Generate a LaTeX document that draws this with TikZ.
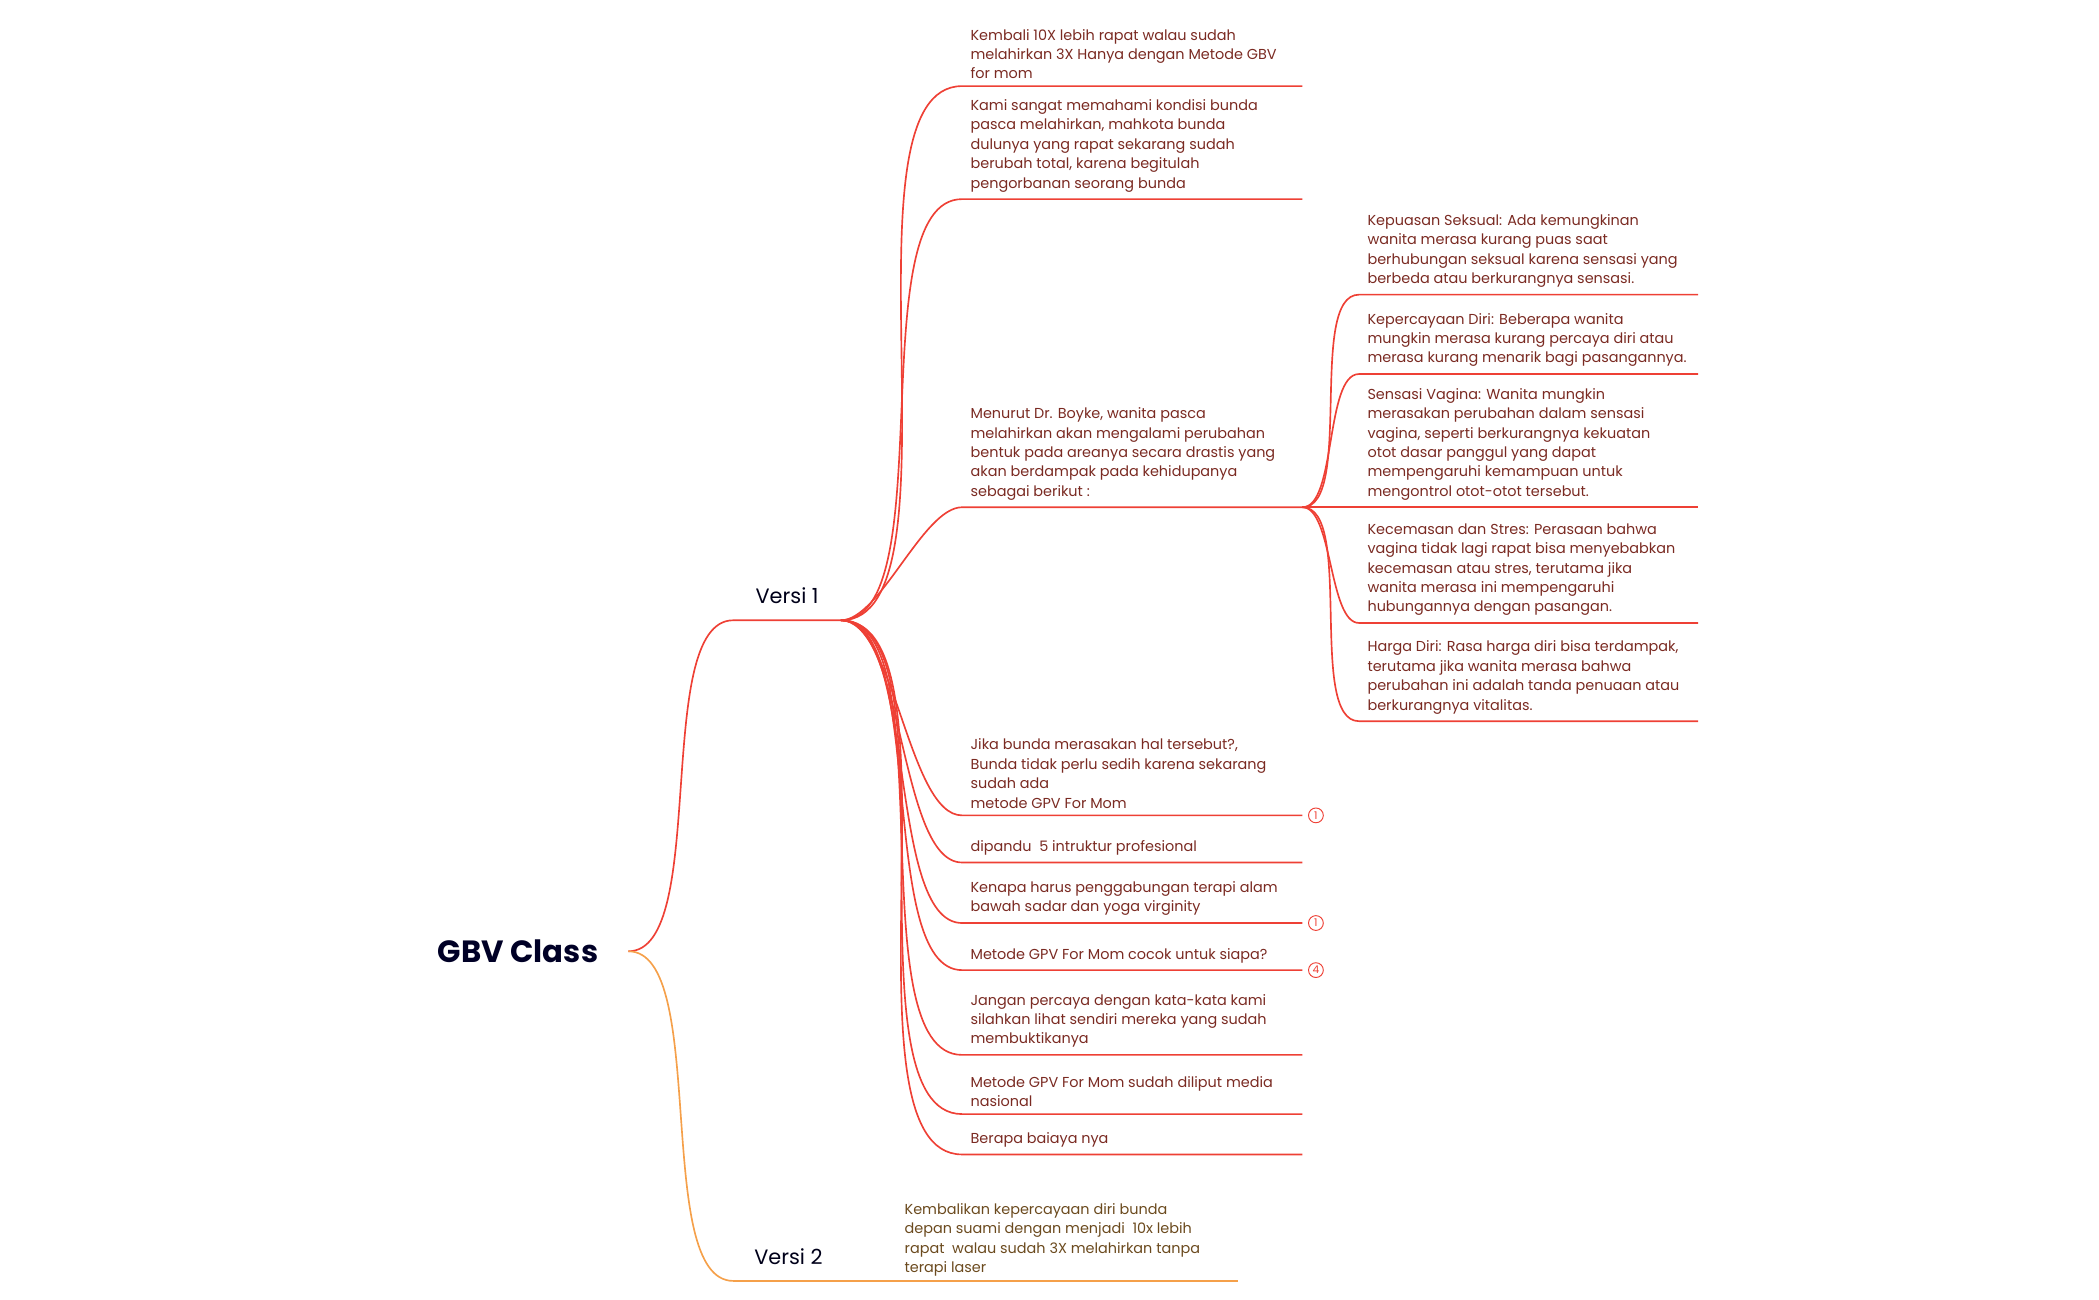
\documentclass[tikz,border=0pt]{standalone}
\usepackage{fontspec}
\setmainfont{Poppins}
\usetikzlibrary{positioning}
\definecolor{branchred}{HTML}{EE4035}
\definecolor{textred}{HTML}{7A2A22}
\definecolor{branchorange}{HTML}{F5A04A}
\definecolor{textbrown}{HTML}{6B4A1E}
\tikzset{
  leaf/.style={anchor=south west,align=left,inner sep=0pt,text=textred,
    font=\fontsize{6.1}{8.2}\selectfont},
  topic/.style={inner sep=0pt,text=black!90!blue,font=\fontsize{8.8}{11}\selectfont},
  link/.style={branchred,line width=0.7pt},
  curve/.style={out=0,in=180,looseness=0.6},
  badge/.style={circle,draw=branchred,text=branchred,inner sep=0pt,minimum size=0.22cm,
    fill=white,font=\fontsize{4.5}{5}\selectfont}
}
\begin{document}
\begin{tikzpicture}[x=0.02cm,y=-0.02cm]
  \useasboundingbox (0,0) rectangle (1560,966);
  % root and main topics
  \node[inner sep=0pt,font=\fontsize{13}{16}\selectfont\bfseries,text=black!85!blue] (root) at (385,707) {GBV Class};
  \coordinate (r) at (467,707);
  \node[topic] (v1) at (585,443) {Versi 1};
  \node[topic] (v2) at (586,934) {Versi 2};
  \coordinate (v1a) at (545,461);
  \coordinate (v1b) at (625,461);
  \coordinate (v2a) at (545,952);
  \draw[link] (r) to[curve] (v1a) -- (v1b);
  \draw[branchorange,line width=0.7pt] (r) to[curve] (v2a) -- (920,952);
  \node[leaf,text=textbrown] (k2) at (672,949) {Kembalikan kepercayaan diri bunda\\depan suami dengan menjadi\ \ 10x lebih\\rapat\ \ walau sudah 3X melahirkan tanpa\\terapi laser};
  % Versi 1 children
  \foreach \y/\name/\txt in {
    64/c1/{Kembali 10X lebih rapat walau sudah\\melahirkan 3X Hanya dengan Metode GBV\\for mom},
    148/c2/{Kami sangat memahami kondisi bunda\\pasca melahirkan, mahkota bunda\\dulunya yang rapat sekarang sudah\\berubah total, karena begitulah\\pengorbanan seorang bunda},
    377/c3/{Menurut Dr. Boyke, wanita pasca\\melahirkan akan mengalami perubahan\\bentuk pada areanya secara drastis yang\\akan berdampak pada kehidupanya\\sebagai berikut :},
    606/c4/{Jika bunda merasakan hal tersebut?,\\Bunda tidak perlu sedih karena sekarang\\sudah ada\\metode GPV For Mom},
    641/c5/{dipandu\ \ 5 intruktur profesional},
    686/c6/{Kenapa harus penggabungan terapi alam\\bawah sadar dan yoga virginity},
    721/c7/{Metode GPV For Mom cocok untuk siapa?},
    784/c8/{Jangan percaya dengan kata-kata kami\\silahkan lihat sendiri mereka yang sudah\\membuktikanya},
    828/c9/{Metode GPV For Mom sudah diliput media\\nasional},
    858/c10/{Berapa baiaya nya}}{
    \node[leaf] (\name) at (721,\y-5) {\txt};
    \coordinate (\name-s) at (715,\y);
    \coordinate (\name-e) at (968,\y);
    \draw[link] (v1b) to[curve] (\name-s) -- (\name-e);
  }
  % sub children of c3
  \foreach \y/\name/\txt in {
    219/d1/{Kepuasan Seksual: Ada kemungkinan\\wanita merasa kurang puas saat\\berhubungan seksual karena sensasi yang\\berbeda atau berkurangnya sensasi.},
    278/d2/{Kepercayaan Diri: Beberapa wanita\\mungkin merasa kurang percaya diri atau\\merasa kurang menarik bagi pasangannya.},
    377/d3/{Sensasi Vagina: Wanita mungkin\\merasakan perubahan dalam sensasi\\vagina, seperti berkurangnya kekuatan\\otot dasar panggul yang dapat\\mempengaruhi kemampuan untuk\\mengontrol otot-otot tersebut.},
    463/d4/{Kecemasan dan Stres: Perasaan bahwa\\vagina tidak lagi rapat bisa menyebabkan\\kecemasan atau stres, terutama jika\\wanita merasa ini mempengaruhi\\hubungannya dengan pasangan.},
    536/d5/{Harga Diri: Rasa harga diri bisa terdampak,\\terutama jika wanita merasa bahwa\\perubahan ini adalah tanda penuaan atau\\berkurangnya vitalitas.}}{
    \node[leaf] (\name) at (1016,\y-5) {\txt};
    \coordinate (\name-s) at (1010,\y);
    \draw[link] (c3-e) to[curve] (\name-s) -- (1262,\y);
  }
  % badges
  \node[badge] (b1) at (978,606) {1};
  \node[badge] (b2) at (978,686) {1};
  \node[badge] (b3) at (978,721) {4};
\end{tikzpicture}
\end{document}
